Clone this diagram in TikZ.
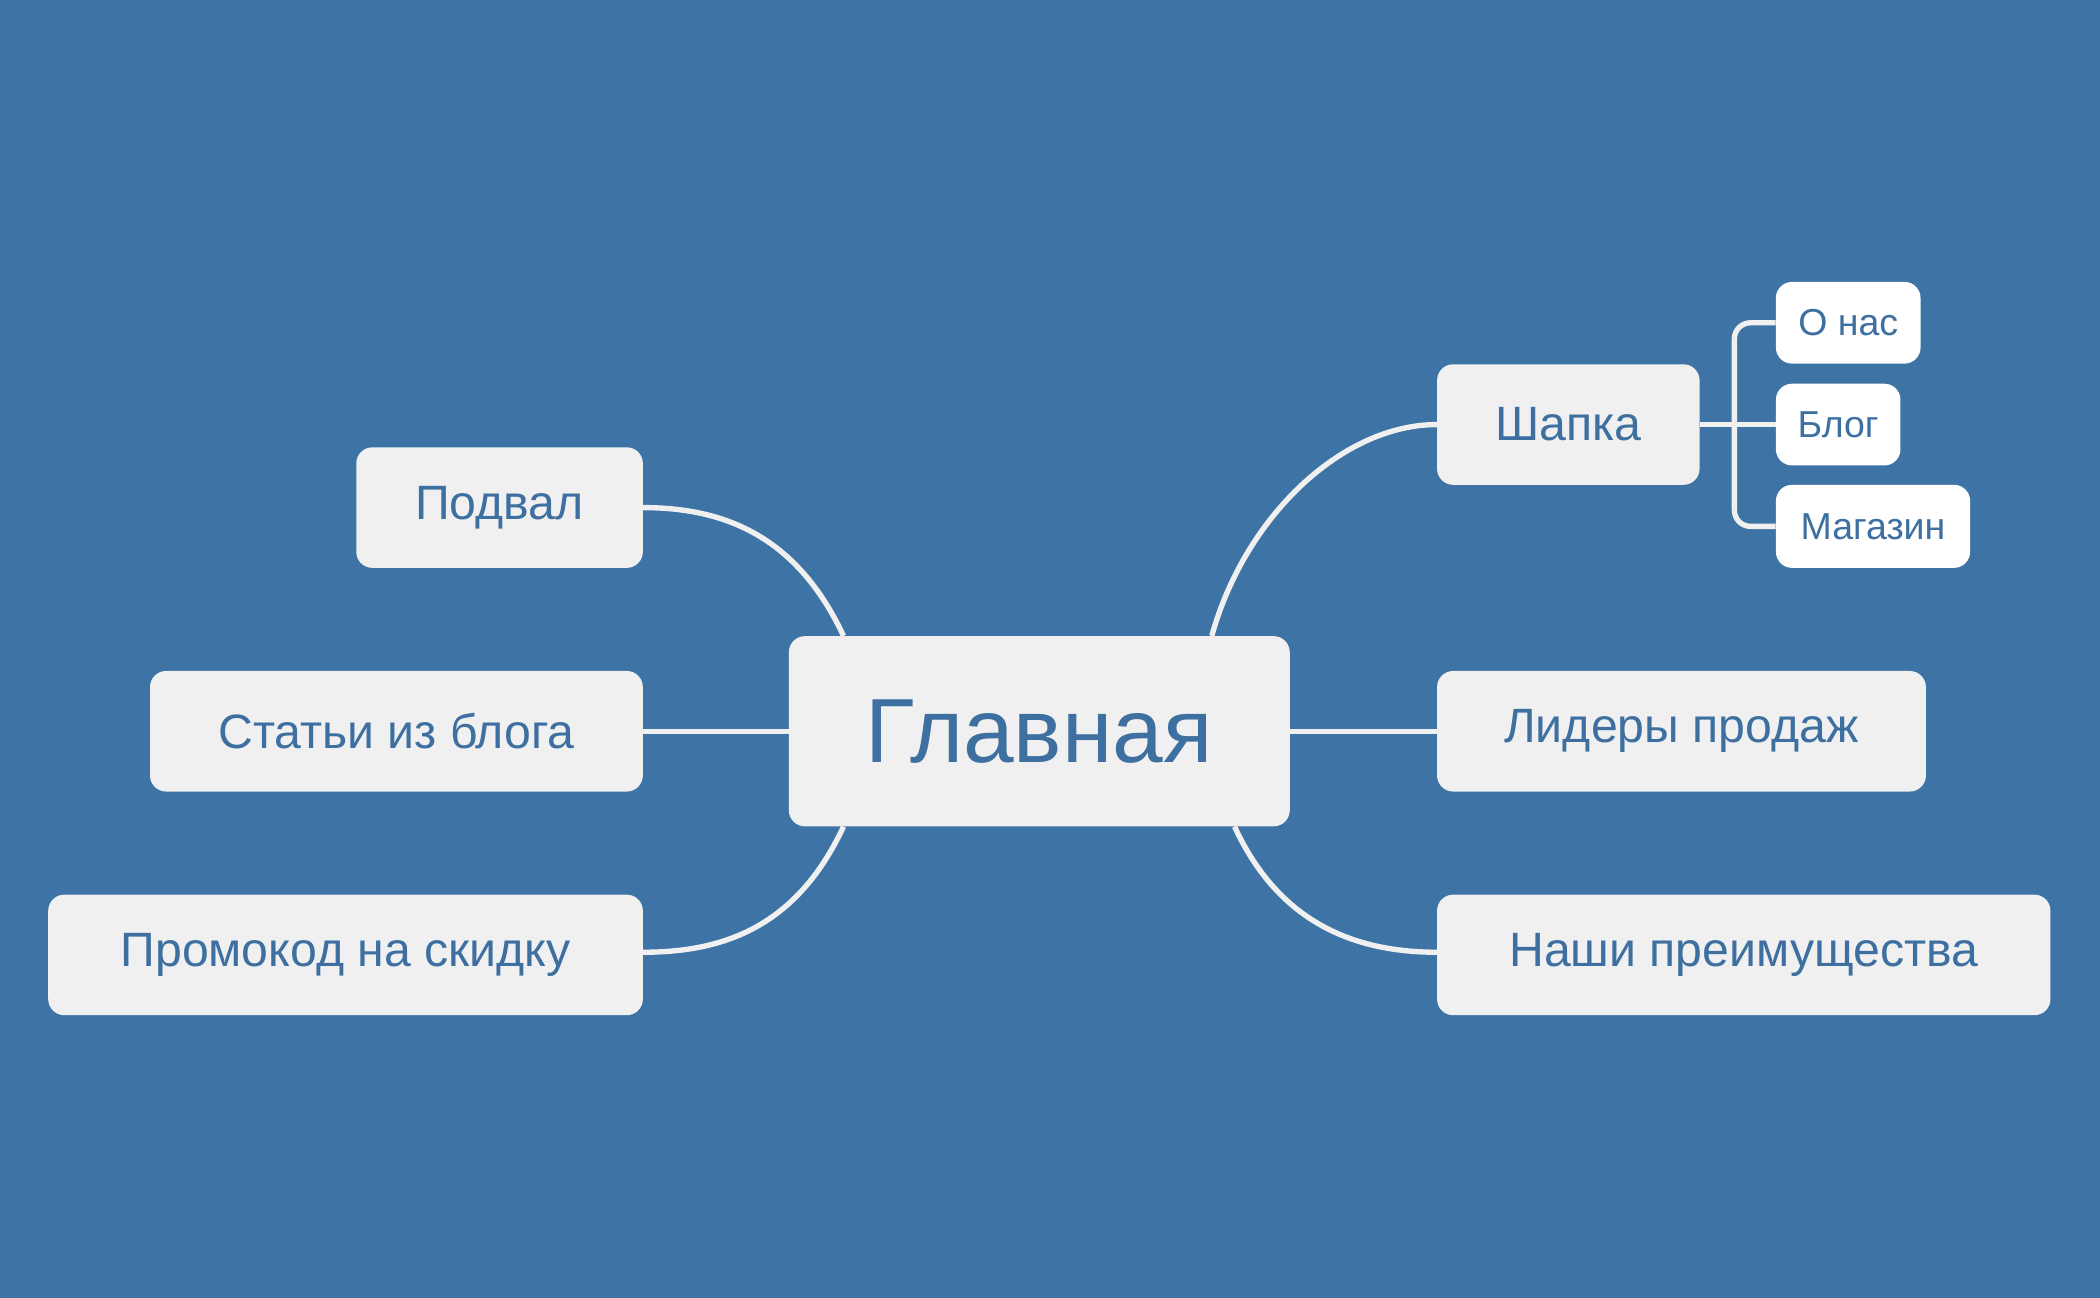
\documentclass[tikz,border=0pt]{standalone}
\usepackage{fontspec}
\setmainfont{Liberation Sans}
\usetikzlibrary{calc}
\definecolor{bg}{HTML}{3E74A5}
\definecolor{nf}{HTML}{F0F0F0}
\definecolor{tx}{HTML}{3D6FA0}
\begin{document}
\begin{tikzpicture}[x=1pt,y=-1pt,
  box/.style={fill=nf,rounded corners=12pt,inner sep=0pt,text=tx,font=\fontsize{36}{40}\selectfont},
  sub/.style={fill=white,rounded corners=12pt,inner sep=0pt,text=tx,font=\fontsize{28}{32}\selectfont},
  link/.style={draw=nf,line width=4pt}]
\fill[bg] (0,0) rectangle (1568,969);
\useasboundingbox (0,0) rectangle (1568,969);
\node[box,minimum width=374pt,minimum height=142pt,font=\fontsize{68}{72}\selectfont] (main) at (776,546) {Главная};
\node[box,minimum width=196pt,minimum height=90pt] (shapka) at (1171,317) {Шапка};
\node[box,minimum width=365pt,minimum height=90pt] (lid) at (1255.5,546) {Лидеры продаж};
\node[box,minimum width=458pt,minimum height=90pt] (nashi) at (1302,713) {Наши преимущества};
\node[box,minimum width=214pt,minimum height=90pt] (podv) at (373,379) {Подвал};
\node[box,minimum width=368pt,minimum height=90pt] (stat) at (296,546) {Статьи из блога};
\node[box,minimum width=444pt,minimum height=90pt] (promo) at (258,713) {Промокод на скидку};
\node[sub,minimum width=108pt,minimum height=61pt] (onas) at (1380,241) {О нас};
\node[sub,minimum width=93pt,minimum height=61pt] (blog) at (1372.5,317) {Блог};
\node[sub,minimum width=145pt,minimum height=62pt] (mag) at (1398.5,393) {Магазин};
\coordinate (j) at (1295,317);
\draw[link] (main.east) -- (lid.west);
\draw[link] (main.west) -- (stat.east);
\draw[link] ($(main.north west)+(41,0)$) .. controls +(-35,-75) and +(60,0) .. (podv.east);
\draw[link] ($(main.south west)+(41,0)$) .. controls +(-35,75) and +(60,0) .. ($(promo.east)+(0,-2)$);
\draw[link] ($(main.north west)+(316,0)$) .. controls +(25,-90) and +(-70,0) .. (shapka.west);
\draw[link] ($(main.south west)+(333,0)$) .. controls +(30,65) and +(-70,0) .. ($(nashi.west)+(0,-2)$);
\draw[link] (shapka.east) -- (blog.west);
\draw[link,rounded corners=12pt] (onas.west) -| (j) |- (mag.west);
\end{tikzpicture}
\end{document}
